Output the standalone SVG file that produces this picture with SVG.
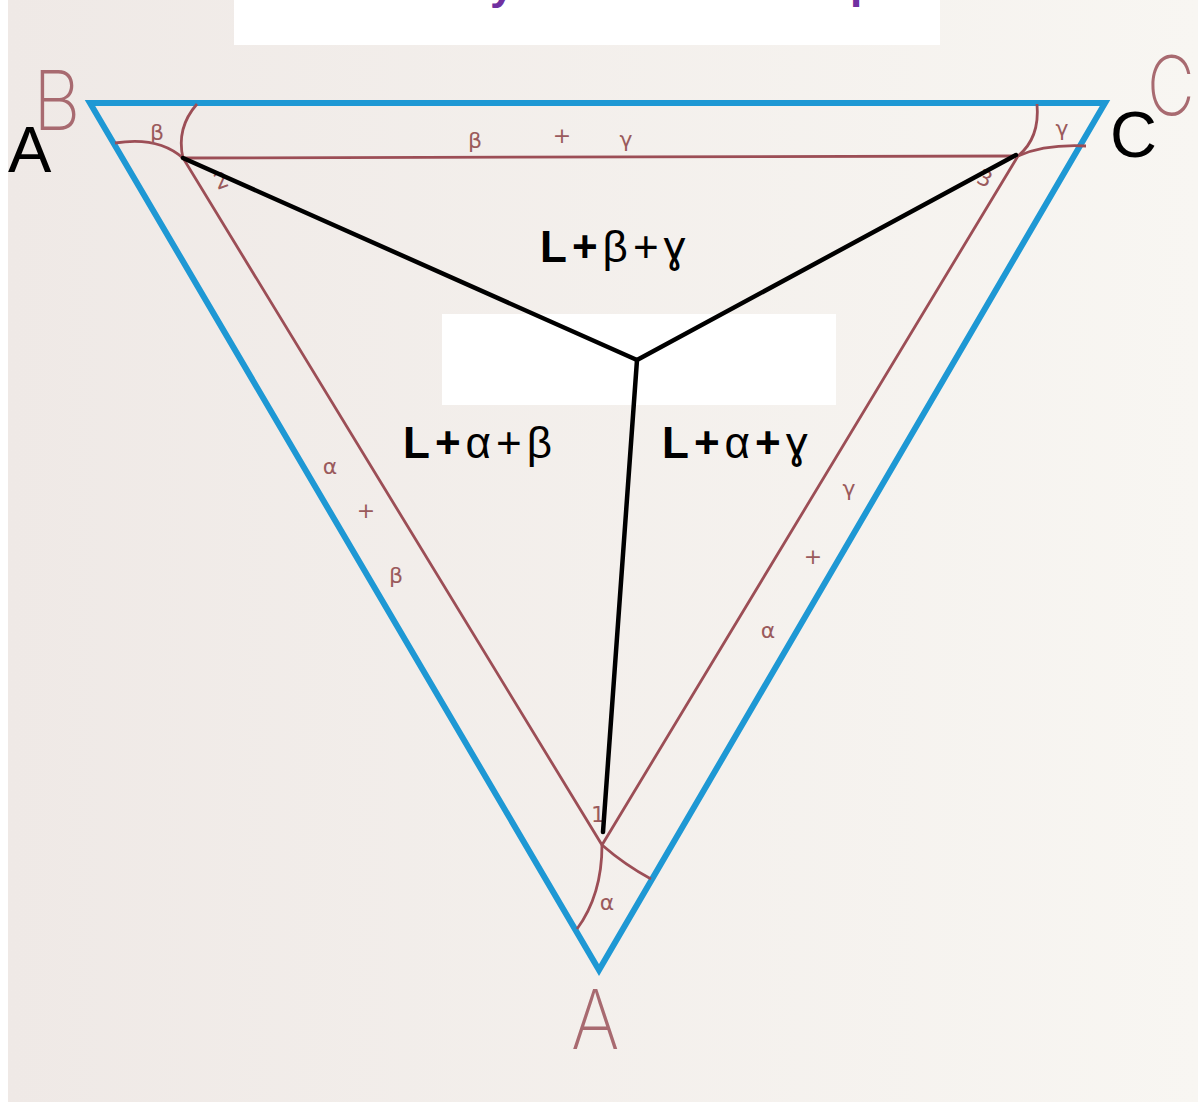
<svg xmlns="http://www.w3.org/2000/svg" width="1198" height="1107" viewBox="0 0 1198 1107">
<defs>
<linearGradient id="bg" x1="0" y1="0" x2="1" y2="0">
<stop offset="0" stop-color="#efe9e6"/>
<stop offset="1" stop-color="#f8f6f2"/>
</linearGradient>
<style>
.blue{fill:none;stroke:#1e98d4;stroke-width:6;stroke-linejoin:miter}
.red{fill:none;stroke:#9c4e56;stroke-width:2.8}
.blk{fill:none;stroke:#000;stroke-width:4.5;stroke-linecap:round;stroke-linejoin:round}
.sm{font-family:"DejaVu Sans","Liberation Sans",sans-serif;font-size:22px;fill:#9a5a5c;text-anchor:middle}
.big{font-family:Inter,"Noto Sans","DejaVu Sans",sans-serif;font-weight:200;font-size:82px;fill:#a86a70}
.lab{font-family:"Liberation Sans",Arial,"DejaVu Sans",sans-serif;font-size:44px;fill:#000;letter-spacing:5px}
.b{font-weight:bold}
.cap{font-family:"Liberation Sans",Arial,sans-serif;font-size:65px;fill:#000}
</style>
</defs>
<rect x="0" y="0" width="1198" height="1107" fill="#ffffff"/>
<rect x="8" y="0" width="1190" height="1102" fill="url(#bg)"/>
<rect id="title-box" x="234" y="0" width="706" height="45" fill="#ffffff"/>
<g id="title-fragments" font-family="Liberation Sans,Arial,sans-serif" font-weight="bold" font-size="44" fill="#7030a0">
<text x="490" y="-1">y</text>
<text x="850" y="-2">p</text>
</g>
<g id="outer-triangle">
<polygon class="blue" points="90,103 1105,103 599,970"/>
</g>
<g id="inner-triangle">
<polygon class="red" points="183,158 1018,156 602,845"/>
<path class="red" d="M115,143 Q158,136 183,158"/>
<path class="red" d="M197,104 Q176,128 183,158"/>
<path class="red" d="M1037,104 Q1040,138 1018,156"/>
<path class="red" d="M1018,156 Q1045,144 1086,146"/>
<path class="red" d="M602,845 Q602,895 577,929"/>
<path class="red" d="M602,845 Q625,865 651,879"/>
</g>
<g id="small-labels">
<text class="sm" x="157" y="140">β</text>
<text class="sm" x="475" y="148">β</text>
<text class="sm" x="562" y="143">+</text>
<text class="sm" x="626" y="147">γ</text>
<text class="sm" x="1062" y="136">γ</text>
<text class="sm" x="221" y="188" transform="rotate(-20 221 180)">2</text>
<text class="sm" x="985" y="186" transform="rotate(25 985 178)">3</text>
<text class="sm" x="330" y="474">α</text>
<text class="sm" x="366" y="518">+</text>
<text class="sm" x="396" y="583">β</text>
<text class="sm" x="849" y="496">γ</text>
<text class="sm" x="813" y="564">+</text>
<text class="sm" x="768" y="638">α</text>
<text class="sm" x="598" y="822" font-size="18">1</text>
<text class="sm" x="607" y="910">α</text>
</g>
<g id="corner-letters">
<text class="big" x="0" y="0" transform="translate(33,130) scale(0.9,1)">B</text>
<text class="big" x="0" y="0" font-size="74" transform="translate(1147,115) scale(0.8,1)">C</text>
<text class="big" x="0" y="0" transform="translate(571,1049) scale(0.9,1)">A</text>
</g>
<rect id="center-box" x="442" y="314" width="394" height="91" fill="#ffffff"/>
<g id="connectors">
<path class="blk" d="M183,158 L637,360"/>
<path class="blk" d="M1016,155 L637,360"/>
<path class="blk" d="M637,360 L603,832"/>
</g>
<g id="label-bg">
<text class="lab" x="540" y="262"><tspan class="b">L+</tspan>β+ɣ</text>
</g>
<g id="label-ab">
<text class="lab" x="403" y="458"><tspan class="b">L+</tspan>α+β</text>
</g>
<g id="label-ag">
<text class="lab" x="662" y="458"><tspan class="b">L+</tspan>α<tspan class="b">+</tspan>ɣ</text>
</g>
<g id="vertex-A">
<text class="cap" x="8" y="172">A</text>
</g>
<g id="vertex-C">
<text class="cap" x="1110" y="157">C</text>
</g>
</svg>
